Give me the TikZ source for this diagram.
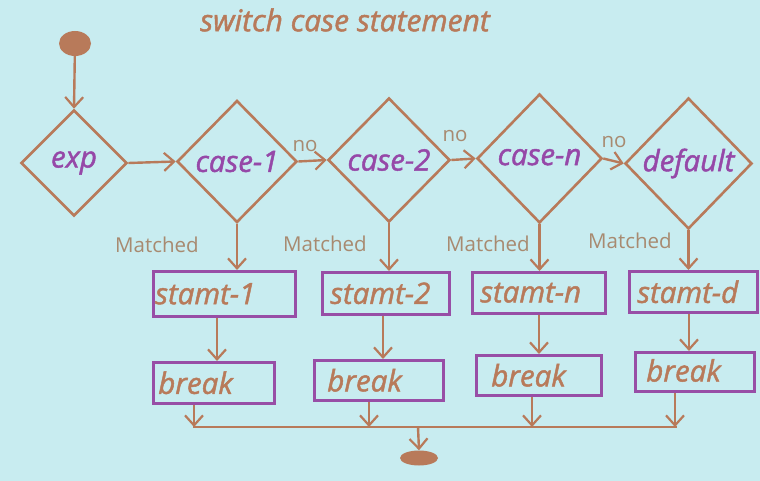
\documentclass[tikz,border=0pt]{standalone}
\usepackage{fontspec}
\setmainfont{Open Sans}[ItalicFeatures={FakeBold=1.5}]
\usetikzlibrary{shapes.geometric,arrows.meta,calc}
\definecolor{bgc}{RGB}{200,236,240}
\definecolor{brn}{RGB}{184,122,90}
\definecolor{lbrn}{RGB}{168,138,112}
\definecolor{purp}{RGB}{150,72,168}
\definecolor{boxp}{RGB}{152,78,166}
\tikzset{
  dia/.style={diamond, draw=brn, line width=2.6pt, inner sep=0pt, aspect=1,
    text=purp, font=\fontsize{29.5}{32}\selectfont\itshape},
  box/.style={rectangle, draw=boxp, line width=2.6pt, anchor=north west, align=left,
    text=brn, font=\fontsize{29.5}{32}\selectfont\itshape, inner ysep=0pt},
  arr/.style={draw=brn, line width=2.4pt, -{Straight Barb[length=10pt,width=18pt,line width=2.2pt]}},
  ln/.style={draw=brn, line width=2.4pt},
  lbl/.style={text=lbrn, font=\fontsize{20.5}{24}\selectfont},
}
\begin{document}
\begin{tikzpicture}[x=1pt,y=-1pt]
\fill[bgc] (0,0) rectangle (760,481);
\useasboundingbox (0,0) rectangle (760,481);
\node[text=brn, font=\fontsize{30}{34}\selectfont\itshape] (title) at (345,20) {switch case statement};
\node[ellipse, fill=brn, minimum width=32pt, minimum height=25pt, inner sep=0pt] (start) at (75,43.5) {};
\node[dia, minimum width=106pt, minimum height=106pt] (exp) at (74,163) {exp};
\node[dia, minimum width=120pt, minimum height=122pt] (c1) at (237,161.5) {case-1};
\node[dia, minimum width=122pt, minimum height=124pt] (c2) at (389,160) {case-2};
\node[dia, minimum width=125pt, minimum height=129pt] (cn) at (539.5,158.5) {\raisebox{3pt}{case-n}};
\node[dia, minimum width=127pt, minimum height=131pt] (cd) at (688.5,163.5) {default};
% statement boxes
\node[box, inner xsep=2pt, text width=138pt, minimum height=45pt] (s1) at (152,270) {stamt-1};
\node[box, inner xsep=8pt, text width=111pt, minimum height=42pt] (s2) at (321,271) {stamt-2};
\node[box, inner xsep=8pt, text width=117pt, minimum height=41pt] (sn) at (471,271) {stamt-n};
\node[box, inner xsep=8pt, text width=112pt, minimum height=41pt] (sd) at (628,270) {stamt-d};
% break boxes
\node[box, inner xsep=5pt, text width=111pt, minimum height=41pt] (b1) at (152,361) {break};
\node[box, inner xsep=13pt, text width=103pt, minimum height=40pt] (b2) at (313,359) {break};
\node[box, inner xsep=15pt, text width=95pt, minimum height=40pt] (bn) at (475,354) {break};
\node[box, inner xsep=11pt, text width=97pt, minimum height=39pt] (bd) at (634,351) {\raisebox{3pt}{break}};
\node[ellipse, fill=brn, minimum width=38pt, minimum height=15pt, inner sep=0pt] (stop) at (419,458) {};
% labels
\node[lbl] (no1) at (305,146) {no};
\node[lbl] (no2) at (455,136) {no};
\node[lbl] (no3) at (614,142) {no};
\node[lbl] (m1) at (157,245) {Matched};
\node[lbl] (m2) at (325,244) {Matched};
\node[lbl] (m3) at (488,244) {Matched};
\node[lbl] (m4) at (630,241) {Matched};
% column coordinates
\coordinate (x1) at (217,0);
\coordinate (x2) at (383,0);
\coordinate (x3) at (539,0);
\coordinate (x4) at (689,0);
\coordinate (y1) at (194,0);
\coordinate (y2) at (369,0);
\coordinate (y3) at (532,0);
\coordinate (y4) at (675,0);
\coordinate (jl) at (193,427);
\coordinate (jr) at (677,427);
\coordinate (jm) at (418,427);
% connectors
\draw[arr] (start) -- (exp.north);
\draw[arr] (exp.east) -- (c1.west);
\draw[arr] (c1.east) -- (c2.west);
\draw[arr] (c2.east) -- (cn.west);
\draw[arr] (cn.east) -- (cd.west);
\draw[arr] (c1.south) -- (c1.south |- s1.north);
\draw[arr] (c2.south) -- (c2.south |- s2.north);
\draw[arr] (cn.south) -- (cn.south |- sn.north);
\draw[arr] (cd.south) -- (cd.south |- sd.north);
\draw[arr] (s1.south -| x1) -- (b1.north -| x1);
\draw[arr] (s2.south -| x2) -- (b2.north -| x2);
\draw[arr] (sn.south -| x3) -- (bn.north -| x3);
\draw[arr] (sd.south -| x4) -- (bd.north -| x4);
\draw[arr] (b1.south -| y1) -- (jl -| y1);
\draw[arr] (b2.south -| y2) -- (jl -| y2);
\draw[arr] (bn.south -| y3) -- (jl -| y3);
\draw[arr] (bd.south -| y4) -- (jl -| y4);
\draw[ln] (jl) -- (jr);
\draw[arr] (jm) -- (stop.north);
\end{tikzpicture}
\end{document}
